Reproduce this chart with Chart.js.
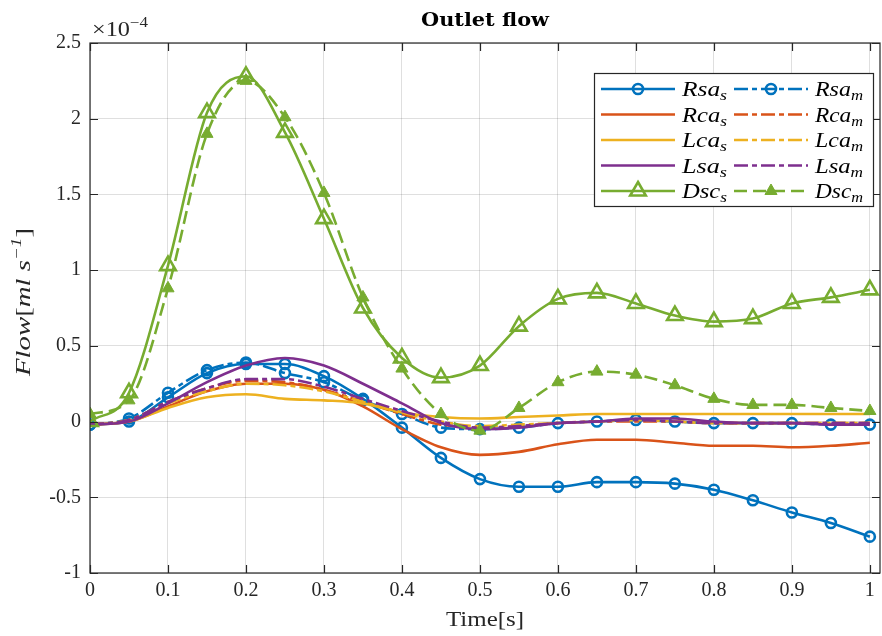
<!DOCTYPE html>
<html>
<head>
<meta charset="utf-8">
<script src="https://cdn.jsdelivr.net/npm/chart.js@4/dist/chart.umd.min.js"></script>
<style>
  html, body { margin: 0; padding: 0; background: #ffffff; }
  #wrap { width: 882px; height: 636px; }
  .pre { position: absolute; left: -9999px; top: 0; }
</style>
</head>
<body>
<span class="pre" style="font-family:'Liberation Serif'">0.5 Time</span>
<span class="pre" style="font-family:'Liberation Serif';font-style:italic">Flow Rsa</span>
<span class="pre" style="font-family:'DejaVu Serif';font-weight:bold">Outlet flow</span>
<div id="wrap"><canvas id="c" width="882" height="636"></canvas></div>
<script>
// ---- data (flow values in units of 1e-4 ml/s) ----
const times = [0, 0.05, 0.1, 0.15, 0.2, 0.25, 0.3, 0.35, 0.4, 0.45, 0.5, 0.55, 0.6, 0.65, 0.7, 0.75, 0.8, 0.85, 0.9, 0.95, 1.0];
const rsaS = [-0.02, 0.00, 0.16, 0.32, 0.38, 0.38, 0.30, 0.15, -0.04, -0.24, -0.38, -0.43, -0.43, -0.40, -0.40, -0.41, -0.45, -0.52, -0.60, -0.67, -0.76];
const rsaM = [-0.02, 0.02, 0.19, 0.34, 0.39, 0.32, 0.26, 0.14, 0.05, -0.04, -0.05, -0.04, -0.01, 0.00, 0.01, 0.00, -0.01, -0.01, -0.01, -0.02, -0.02];
const rcaS = [-0.02, 0.00, 0.10, 0.20, 0.25, 0.25, 0.21, 0.10, -0.05, -0.17, -0.22, -0.20, -0.15, -0.12, -0.12, -0.14, -0.16, -0.16, -0.17, -0.16, -0.14];
const rcaM = [-0.02, 0.01, 0.13, 0.22, 0.27, 0.26, 0.21, 0.13, 0.05, -0.02, -0.04, -0.03, -0.01, 0.00, 0.00, 0.00, -0.01, -0.01, -0.01, -0.01, -0.01];
const lcaS = [-0.02, 0.00, 0.09, 0.16, 0.18, 0.15, 0.14, 0.12, 0.06, 0.03, 0.02, 0.03, 0.04, 0.05, 0.05, 0.05, 0.05, 0.05, 0.05, 0.05, 0.05];
const lcaM = [-0.02, 0.01, 0.12, 0.20, 0.25, 0.24, 0.20, 0.13, 0.06, 0.00, -0.03, -0.02, -0.01, 0.00, 0.01, 0.00, -0.01, -0.01, -0.01, -0.01, -0.01];
const lsaS = [-0.02, 0.00, 0.12, 0.26, 0.37, 0.42, 0.37, 0.25, 0.12, -0.01, -0.05, -0.04, -0.01, 0.00, 0.02, 0.02, 0.00, -0.01, -0.01, -0.02, -0.02];
const lsaM = [-0.02, 0.01, 0.13, 0.22, 0.28, 0.28, 0.23, 0.15, 0.07, 0.00, -0.04, -0.03, -0.01, 0.00, 0.01, 0.00, -0.01, -0.01, -0.01, -0.01, -0.01];
const dscS = [0.00, 0.19, 1.03, 2.04, 2.28, 1.91, 1.34, 0.75, 0.42, 0.29, 0.37, 0.63, 0.81, 0.85, 0.78, 0.70, 0.66, 0.68, 0.78, 0.82, 0.87];
const dscM = [0.05, 0.14, 0.88, 1.90, 2.25, 2.01, 1.51, 0.82, 0.35, 0.05, -0.06, 0.09, 0.26, 0.33, 0.31, 0.24, 0.15, 0.11, 0.11, 0.09, 0.07];

const xTicks = [0, 0.1, 0.2, 0.3, 0.4, 0.5, 0.6, 0.7, 0.8, 0.9, 1.0];
const xTickLabels = ['0', '0.1', '0.2', '0.3', '0.4', '0.5', '0.6', '0.7', '0.8', '0.9', '1'];
const yTicks = [-1, -0.5, 0, 0.5, 1, 1.5, 2, 2.5];
const yTickLabels = ['-1', '-0.5', '0', '0.5', '1', '1.5', '2', '2.5'];

// ---- styles ----
const BLUE = '#0072BD', ORANGE = '#D95319', YELLOW = '#EDB120', PURPLE = '#7E2F8E', GREEN = '#77AC30';
const DASHDOT = [14, 4, 5, 4];
const DASHED = [13, 6];
const SERIF = '"Liberation Serif", serif';
const AXC = '#262626';

function pts(arr) { return times.map((t, i) => ({ x: t, y: arr[i] })); }

function ds(label, base, sub, arr, color, dash, marker, order) {
  const d = {
    label: label, _base: base, _sub: sub, _marker: marker,
    data: pts(arr),
    borderColor: color,
    backgroundColor: color,
    borderWidth: 2.6,
    borderDash: dash,
    cubicInterpolationMode: 'monotone',
    fill: false,
    order: order,
    pointRadius: 0,
    pointHoverRadius: 0
  };
  if (marker === 'circle') {
    d.pointStyle = 'circle'; d.pointRadius = 5; d.pointBorderWidth = 2.6;
    d.pointBackgroundColor = 'rgba(0,0,0,0)'; d.pointBorderColor = color;
  } else if (marker === 'triOpen') {
    d.pointStyle = 'triangle'; d.pointRadius = 9; d.pointBorderWidth = 2.6;
    d.pointBackgroundColor = 'rgba(0,0,0,0)'; d.pointBorderColor = color;
  } else if (marker === 'triFill') {
    d.pointStyle = 'triangle'; d.pointRadius = 7; d.pointBorderWidth = 1;
    d.pointBackgroundColor = color; d.pointBorderColor = color;
  }
  return d;
}

const datasets = [
  ds('Rsa_s', 'Rsa', 's', rsaS, BLUE, [], 'circle', 9),
  ds('Rsa_m', 'Rsa', 'm', rsaM, BLUE, DASHDOT, 'circle', 8),
  ds('Rca_s', 'Rca', 's', rcaS, ORANGE, [], null, 7),
  ds('Rca_m', 'Rca', 'm', rcaM, ORANGE, DASHDOT, null, 6),
  ds('Lca_s', 'Lca', 's', lcaS, YELLOW, [], null, 5),
  ds('Lca_m', 'Lca', 'm', lcaM, YELLOW, DASHDOT, null, 4),
  ds('Lsa_s', 'Lsa', 's', lsaS, PURPLE, [], null, 3),
  ds('Lsa_m', 'Lsa', 'm', lsaM, PURPLE, DASHDOT, null, 2),
  ds('Dsc_s', 'Dsc', 's', dscS, GREEN, [], 'triOpen', 1),
  ds('Dsc_m', 'Dsc', 'm', dscM, GREEN, DASHED, 'triFill', 0)
];

function drawMarker(ctx, d, x, y) {
  if (!d._marker) return;
  ctx.save();
  ctx.setLineDash([]);
  ctx.lineWidth = d.pointBorderWidth;
  ctx.strokeStyle = d.pointBorderColor;
  ctx.fillStyle = d.pointBackgroundColor;
  const r = d.pointRadius;
  ctx.beginPath();
  if (d.pointStyle === 'circle') {
    ctx.arc(x, y, r, 0, Math.PI * 2);
  } else {
    for (let k = 0; k < 3; k++) {
      const ang = k * 2 * Math.PI / 3;
      const px = x + Math.sin(ang) * r, py = y - Math.cos(ang) * r;
      if (k === 0) ctx.moveTo(px, py); else ctx.lineTo(px, py);
    }
    ctx.closePath();
  }
  ctx.fill();
  ctx.stroke();
  ctx.restore();
}

// draw a run of text pieces, horizontally fitted to a target width
function drawParts(ctx, parts, x, y, align, targetW) {
  let total = 0;
  parts.forEach(p => { ctx.font = p.f; p.w = ctx.measureText(p.t).width; total += p.w; });
  const s = targetW ? targetW / total : 1;
  ctx.save();
  ctx.translate(x, y);
  ctx.scale(s, 1);
  ctx.textAlign = 'left';
  ctx.textBaseline = 'alphabetic';
  let cx = align === 'center' ? -total / 2 : 0;
  parts.forEach(p => { ctx.font = p.f; ctx.fillText(p.t, cx, p.dy || 0); cx += p.w; });
  ctx.restore();
}

const decor = {
  id: 'decor',
  afterDraw(chart) {
    const ctx = chart.ctx;
    const a = chart.chartArea;
    const xs = chart.scales.x, ys = chart.scales.y;
    ctx.save();
    // frame
    ctx.strokeStyle = AXC;
    ctx.lineWidth = 1.2;
    ctx.setLineDash([]);
    ctx.strokeRect(a.left, a.top, a.right - a.left, a.bottom - a.top);
    // inward ticks
    const TL = 8;
    ctx.beginPath();
    xTicks.forEach(v => {
      const px = Math.round(xs.getPixelForValue(v)) + 0.5;
      ctx.moveTo(px, a.bottom); ctx.lineTo(px, a.bottom - TL);
      ctx.moveTo(px, a.top); ctx.lineTo(px, a.top + TL);
    });
    yTicks.forEach(v => {
      const py = Math.round(ys.getPixelForValue(v)) + 0.5;
      ctx.moveTo(a.left, py); ctx.lineTo(a.left + TL, py);
      ctx.moveTo(a.right, py); ctx.lineTo(a.right - TL, py);
    });
    ctx.stroke();

    const cxp = (a.left + a.right) / 2;
    // title
    ctx.fillStyle = '#000';
    drawParts(ctx, [{ t: 'Outlet flow', f: 'bold 19px "DejaVu Serif", serif' }], cxp, 26, 'center', 128);

    // x axis title
    ctx.fillStyle = AXC;
    drawParts(ctx, [{ t: 'Time[s]', f: '21px ' + SERIF }], cxp, 626, 'center', 78);

    // exponent
    drawParts(ctx, [
      { t: '\u00d710', f: '20px ' + SERIF },
      { t: '\u22124', f: '14px ' + SERIF, dy: -9 }
    ], 92, 36, 'left', 56);

    // y axis title (rotated)
    ctx.save();
    ctx.translate(30, 302);
    ctx.rotate(-Math.PI / 2);
    drawParts(ctx, [
      { t: 'Flow', f: 'italic 21px ' + SERIF },
      { t: '[', f: '21px ' + SERIF },
      { t: 'ml s', f: 'italic 21px ' + SERIF },
      { t: '\u22121', f: 'italic 14px ' + SERIF, dy: -9 },
      { t: ']', f: '21px ' + SERIF }
    ], 0, 0, 'center', 148);
    ctx.restore();

    // legend box
    const L = { x: 594, y: 73, w: 279, h: 133 };
    ctx.fillStyle = '#ffffff';
    ctx.fillRect(L.x, L.y, L.w, L.h);
    ctx.strokeStyle = AXC;
    ctx.lineWidth = 1.2;
    ctx.strokeRect(L.x + 0.5, L.y + 0.5, L.w, L.h);
    const rowY = [89, 114.5, 140, 165.5, 191];
    const cols = [{ x0: 601, x1: 675, tx: 682 }, { x0: 734, x1: 808, tx: 815 }];
    const ordered = chart.data.datasets;
    for (let r = 0; r < 5; r++) {
      for (let c = 0; c < 2; c++) {
        const d = ordered[r * 2 + c];
        const col = cols[c];
        const y = rowY[r];
        ctx.save();
        ctx.strokeStyle = d.borderColor;
        ctx.lineWidth = d.borderWidth;
        ctx.setLineDash(d.borderDash);
        ctx.beginPath();
        ctx.moveTo(col.x0, y); ctx.lineTo(col.x1, y);
        ctx.stroke();
        ctx.restore();
        drawMarker(ctx, d, (col.x0 + col.x1) / 2, y);
        ctx.fillStyle = '#000';
        drawParts(ctx, [
          { t: d._base, f: 'italic 20px ' + SERIF },
          { t: d._sub, f: 'italic 14px ' + SERIF, dy: 4 }
        ], col.tx, y + 7, 'left', d._sub === 'm' ? 48 : 45);
      }
    }
    ctx.restore();
  }
};

const chart = new Chart(document.getElementById('c'), {
  type: 'line',
  data: { datasets: datasets },
  plugins: [decor],
  options: {
    responsive: false,
    animation: false,
    events: [],
    layout: { autoPadding: false, padding: { top: 43, right: 2, bottom: 0, left: 0 } },
    plugins: { legend: { display: false }, title: { display: false }, tooltip: { enabled: false } },
    scales: {
      x: {
        type: 'linear', min: 0, max: 1.013,
        afterBuildTicks: s => { s.ticks = xTicks.map(v => ({ value: v })); },
        afterFit: s => { s.height = 63; s.paddingLeft = 0; s.paddingRight = 0; },
        ticks: {
          callback: (v) => { const i = xTicks.findIndex(t => Math.abs(t - v) < 1e-9); return i >= 0 ? xTickLabels[i] : ''; },
          font: { family: SERIF, size: 20 }, color: AXC, padding: 6, maxRotation: 0, autoSkip: false
        },
        grid: { color: 'rgba(38,38,38,0.15)', lineWidth: 1, drawTicks: false },
        border: { display: false }
      },
      y: {
        type: 'linear', min: -1, max: 2.5,
        afterBuildTicks: s => { s.ticks = yTicks.map(v => ({ value: v })); },
        afterFit: s => { s.width = 90; s.paddingTop = 0; s.paddingBottom = 0; },
        ticks: {
          callback: (v) => { const i = yTicks.findIndex(t => Math.abs(t - v) < 1e-9); return i >= 0 ? yTickLabels[i] : ''; },
          font: { family: SERIF, size: 20 }, color: AXC, padding: 9, autoSkip: false
        },
        grid: { color: 'rgba(38,38,38,0.15)', lineWidth: 1, drawTicks: false },
        border: { display: false }
      }
    }
  }
});

// redraw once the installed fonts are surely available
if (document.fonts && document.fonts.load) {
  Promise.all([
    document.fonts.load('20px "Liberation Serif"'),
    document.fonts.load('italic 20px "Liberation Serif"'),
    document.fonts.load('bold 19px "DejaVu Serif"')
  ]).then(() => chart.update('none')).catch(() => {});
  document.fonts.ready.then(() => chart.update('none'));
}
</script>
</body>
</html>
